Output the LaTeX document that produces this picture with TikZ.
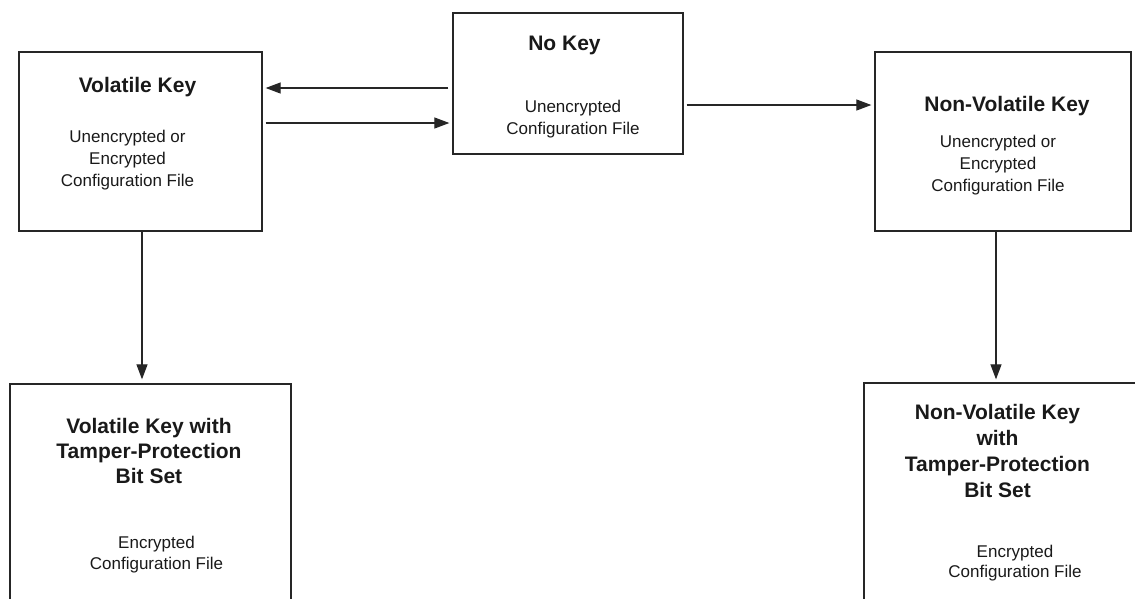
\documentclass[tikz,border=0pt]{standalone}
\usepackage{fontspec}
\setmainfont{Liberation Sans}
\usetikzlibrary{arrows.meta, positioning}

\begin{document}
\begin{tikzpicture}[
    x=1pt, y=-1pt,
    every node/.style={text=black!90},
    box/.style={draw=black!85,line width=1.3pt,inner sep=0pt},
    head/.style={font=\fontsize{21}{25}\selectfont\bfseries,align=center,
                 anchor=base,inner sep=0pt},
    body/.style={font=\fontsize{17}{22}\selectfont,align=center,
                 anchor=base,inner sep=0pt},
    arr/.style={-{Triangle[length=15pt,width=11pt]},line width=1.2pt,draw=black!85}
]
\useasboundingbox (0,0) rectangle (1135,598);
\clip (0,0) rectangle (1135,598);
\node[box,minimum width=243pt,minimum height=179pt] (vkey)     at (140.5,141.5) {};
\node[box,minimum width=230pt,minimum height=141pt] (nokey)    at (568,83.5)    {};
\node[box,minimum width=256pt,minimum height=179pt] (nvkey)    at (1003,141.5)  {};
\node[box,minimum width=281pt,minimum height=256pt] (vtamper)  at (150.5,512)   {};
\node[box,minimum width=286pt,minimum height=257pt] (nvtamper) at (1007,511.5)  {};
% base of a multi-line node sits on its last line
\node[head] (vkeyT)  at ([xshift=-3pt,yshift=-41.3pt]vkey.north) {Volatile Key};
\node[body] (vkeyB)  at ([xshift=-13pt,yshift=-135.3pt]vkey.north)
    {Unencrypted or\\Encrypted\\Configuration File};
\node[head] (nokeyT) at ([xshift=-3.5pt,yshift=-37.7pt]nokey.north) {No Key};
\node[body] (nokeyB) at ([xshift=5pt,yshift=-122pt]nokey.north)
    {Unencrypted\\Configuration File};
\node[head] (nvkeyT) at ([xshift=4pt,yshift=-60pt]nvkey.north) {Non-Volatile Key};
\node[body] (nvkeyB) at ([xshift=-5pt,yshift=-140pt]nvkey.north)
    {Unencrypted or\\Encrypted\\Configuration File};
\node[head] (vtamperT) at ([xshift=-1.5pt,yshift=-100pt]vtamper.north)
    {Volatile Key with\\Tamper-Protection\\Bit Set};
\node[body,font=\fontsize{17}{21}\selectfont] (vtamperB)
    at ([xshift=6pt,yshift=-186pt]vtamper.north) {Encrypted\\Configuration File};
\node[head,font=\fontsize{21}{26}\selectfont\bfseries] (nvtamperT)
    at ([xshift=-9.5pt,yshift=-115pt]nvtamper.north)
    {Non-Volatile Key\\with\\Tamper-Protection\\Bit Set};
\node[body,font=\fontsize{17}{20}\selectfont] (nvtamperB)
    at ([xshift=8pt,yshift=-195pt]nvtamper.north) {Encrypted\\Configuration File};
\draw[arr,shorten >=3pt] ([xshift=-4pt,yshift=-4.5pt]nokey.west) -- ([yshift=53.5pt]vkey.east);
\draw[arr,shorten <=3pt,shorten >=3pt] ([yshift=18.5pt]vkey.east) -- ([yshift=-39.5pt]nokey.west);
\draw[arr,shorten <=3pt,shorten >=3pt] ([yshift=-21.5pt]nokey.east) -- ([yshift=36.5pt]nvkey.west);
\draw[arr,shorten >=4pt] ([xshift=1.5pt]vkey.south) -- ([xshift=-8.5pt]vtamper.north);
\draw[arr,shorten >=3pt] ([xshift=-7pt]nvkey.south) -- ([xshift=-11pt]nvtamper.north);
\end{tikzpicture}
\end{document}
